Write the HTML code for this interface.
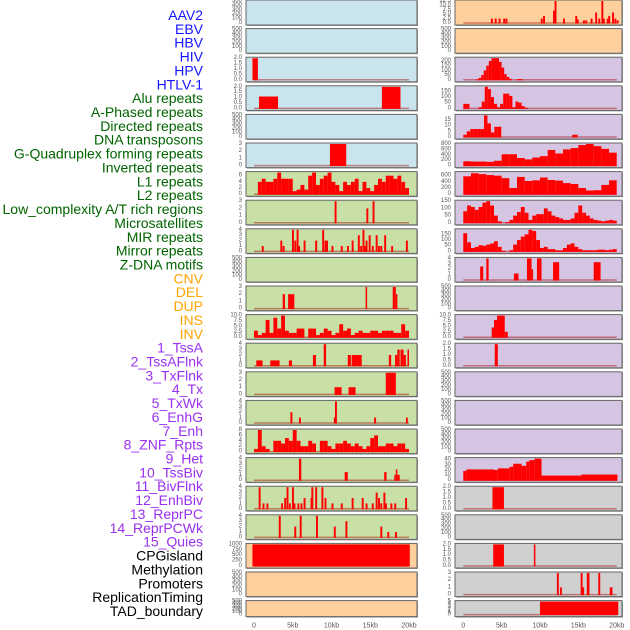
<!DOCTYPE html>
<html><head><meta charset="utf-8"><style>
html,body{margin:0;padding:0;background:#fff;}
svg{display:block;font-family:"Liberation Sans",sans-serif;}
</style></head><body>
<svg id="chart" width="630" height="630" viewBox="0 0 630 630"></svg>
<script>
// ---------- labels ----------
const labelNames = ["AAV2","EBV","HBV","HIV","HPV","HTLV-1","Alu repeats","A-Phased repeats","Directed repeats","DNA transposons","G-Quadruplex forming repeats","Inverted repeats","L1 repeats","L2 repeats","Low_complexity A/T rich regions","Microsatellites","MIR repeats","Mirror repeats","Z-DNA motifs","CNV","DEL","DUP","INS","INV","1_TssA","2_TssAFlnk","3_TxFlnk","4_Tx","5_TxWk","6_EnhG","7_Enh","8_ZNF_Rpts","9_Het","10_TssBiv","11_BivFlnk","12_EnhBiv","13_ReprPC","14_ReprPCWk","15_Quies","CPGisland","Methylation","Promoters","ReplicationTiming","TAD_boundary"];
const labelGroups = [6,13,5,15,5];
const groupColors = ["#1515ff","#006400","#ffa500","#9a30f0","#000000"];
const xTickLabels = ["0","5kb","10kb","15kb","20kb"];
const xTickValues = [0,5,10,15,20];

// ---------- tick label arrays ----------
const T500 = ["0","100","200","300","400","500"];
const T125 = ["0.0","2.5","5.0","7.5","10.0","12.5"];
const T10 = ["0.0","2.5","5.0","7.5","10.0"];
const T2 = ["0.0","0.5","1.0","1.5","2.0"];
const T3 = ["0","1","2","3"];
const T4 = ["0","1","2","3","4"];
const T6 = ["0","2","4","6"];
const T8 = ["0","2","4","6","8"];
const T200 = ["0","50","100","150","200"];
const T150 = ["0","50","100","150"];
const T15 = ["0","5","10","15"];
const T800 = ["0","200","400","600","800"];
const T600 = ["0","200","400","600"];
const T40 = ["0","10","20","30","40"];
const T1000 = ["0","250","500","750","1000"];
const T5 = ["0","1","2","3","4","5"];

// ---------- series data (kb, values) ----------
const R1_spikes = [[3.6,2.5],[4.1,2.5],[4.6,2.5],[5.2,2.5],[5.5,2.5],[10.1,2.5],[10.4,4],[11.7,7],[11.9,12.5],[13.0,2.5],[14.6,4],[14.8,2],[15.6,1.5],[15.9,1.5],[16.6,2.5],[17.2,6],[17.6,2.5],[18.0,12.5],[18.2,2.5],[18.7,2.5],[18.9,4],[19.4,6],[19.7,2.5],[20.0,1.5]];
const L3_bars = [[-0.2,0.5,2]];
const R3_vals = [0,0,0,0,0,5,20,50,100,150,200,230,230,230,190,130,60,30,10,0,0,8,8,0,0];
const L4_bars = [[0.65,3.1,1.1],[16.5,18.9,2]];
const R4_vals = [40,40,0,0,0,10,60,190,170,100,40,10,40,130,130,110,10,60,50,20,5,0];
const R5_vals = [2,5,7,7,7,7,19,12,4,9,9,0];
const R5_extra = [[14.2,14.9,2]];
const L6_bars = [[9.8,11.9,3]];
const R6_vals = [160,150,150,140,180,420,420,280,230,300,350,580,450,600,650,760,800,720,620,480];
const L7_vals = [0,4,5,4,4,5,7,5,5,5,1,1.5,3,1.5,6,7,3,5,6,7,4,3,1,4,3,4,5,1,4,2,1,3,5,4,6,6,5,6,4,2];
const R7_vals = [580,680,650,620,600,520,200,560,430,450,540,460,440,360,330,200,120,130,300,450];
const L8_spikes = [[10.4,3],[14.5,2],[15.3,3]];
const R8_vals = [80,120,110,90,110,140,150,120,50,10,0,5,20,50,75,110,70,20,50,60,60,100,80,50,40,30,20,20,30,70,120,70,50,30,20,15,10,15,20,15];
const L9_spikes = [[1.0,1],[3.4,2],[3.7,1],[4.9,4],[5.2,2],[5.5,4],[5.7,1],[6.4,2],[7.9,2],[8.8,4],[9.1,2],[9.3,2],[10,1],[11.2,1],[12,1],[12.6,2],[13.4,3],[13.7,1],[14,4],[14.2,1],[14.4,2],[14.8,3],[15.2,1],[15.7,3],[16,1],[16.3,1],[16.8,3],[17.7,1],[19.6,2]];
const R9_vals = [160,80,30,40,55,50,60,70,90,40,5,0,10,60,100,130,150,190,180,100,30,40,20,20,10,10,30,60,70,40,20,10,10,10,10,15,15,10,15,20];
const R10_bars = [[2.2,2.6,2.5],[3.0,3.3,4],[6.6,7.2,1.2],[8.3,8.9,4],[8.9,9.1,2],[9.6,10.2,4],[11.7,12.5,3.3],[17.0,17.9,3.3]];
const L11_bars = [[3.7,4.0,2],[4.4,5.2,2],[14.4,14.6,3],[17.9,18.3,3],[18.3,18.5,2]];
const L12_vals = [3,1,2,8,2,9,4,10,3,2,2,4,4,0,4,4,1,2,4,3,1,2,6,3,4,1,2,3,2,2,3,3,2,3,3,3,2,2,6,3];
const R12_bars = [[3.7,4.0,4.5],[4.0,4.4,8],[4.4,5.4,10],[5.4,5.8,2.5]];
const L13_bars = [[0.3,1.1,1],[2.1,3.3,1],[4.5,4.9,1],[7.6,8.0,2],[9.0,9.3,4],[12.1,12.5,2],[12.6,13.3,2],[13.3,13.9,2],[17.4,17.7,2],[18.2,18.5,2],[18.5,18.8,3],[18.9,19.3,3],[19.3,19.6,2],[19.8,20.0,3]];
const R13_bars = [[4.1,4.5,2]];
const L14_bars = [[10.4,11.3,1],[12.2,13.1,1],[17.0,18.3,3]];
const L15_spikes = [[4.7,2],[5.8,1],[10.3,1],[10.45,4],[15.5,1],[19.6,1]];
const L16_vals = [1,8,2,1,0,4,4,3,5,4,8,4,2,2,4,3,0,4,4,2,1,3,3,4,3,2,3,2,1,2,5,6,2,2,3,3,2,3,3,1];
const L17_bars = [[5.8,6.1,4],[11.7,12.1,1.5],[16.8,17.1,1.5],[18.1,18.3,1],[18.3,18.5,2],[18.5,18.8,1]];
const R17_bars = [[0,0.4,18],[0.4,4,21],[4,4.5,20],[4.5,6,23],[6,6.5,26],[6.5,7.6,32],[7.6,8.2,28],[8.2,8.6,36],[8.6,9.3,39],[9.3,10.2,42],[10.2,15.4,9],[15.4,20.1,11]];
const L18_spikes = [[0.6,4],[1.1,1],[1.6,1],[3.5,1],[3.9,2],[4.2,4],[4.5,1],[4.9,4],[5.1,1],[5.6,1],[6,1],[6.4,2],[7.3,2],[7.4,4],[7.9,4],[8.7,4],[9.1,2],[10,1],[11.2,1],[12.6,2],[13.9,2],[14.4,1],[15.2,1],[15.7,3],[16,2],[16.3,1],[16.7,3],[16.9,1],[17.6,1],[18.1,1],[19.5,2]];
const R18_bars = [[3.8,5.3,2]];
const L19_spikes = [[3.2,4],[5.2,2],[5.9,4],[8,4],[10.3,2],[11.8,3],[16.3,2],[17.2,1],[18.2,1]];
const L20_bars = [[-0.2,20.1,1000]];
const R20_bars = [[3.9,5.3,2],[9.2,9.4,2]];
const R21_spikes = [[12.2,3],[12.6,1],[15.3,3],[15.5,1],[16.1,3],[16.2,3],[17.6,3],[19.1,1],[19.2,1]];
const R22_bars = [[10,20.2,5]];

// ---------- helpers ----------
function binsToBars(vals, step){ return vals.map((v,i)=>[i*step,(i+1)*step,v]); }
function spikesToBars(sp){ return sp.map(s=>[s[0],s[0]+0.25,s[1]]); }

const BLUE="#c9e4ec", GREEN="#c8e0a6", ORANGE="#fdd09e", PURPLE="#d5c5e2", GRAY="#d0d0d0";
const panels = [
 {r:0,s:"L",bg:BLUE,t:T500,m:500,b:[]},
 {r:0,s:"R",bg:ORANGE,t:T125,m:12.5,b:spikesToBars(R1_spikes)},
 {r:1,s:"L",bg:BLUE,t:T500,m:500,b:[]},
 {r:1,s:"R",bg:ORANGE,t:T500,m:500,b:[],nobase:true},
 {r:2,s:"L",bg:BLUE,t:T2,m:2,b:L3_bars},
 {r:2,s:"R",bg:PURPLE,t:T200,m:230,b:binsToBars(R3_vals,0.333)},
 {r:3,s:"L",bg:BLUE,t:T2,m:2,b:L4_bars},
 {r:3,s:"R",bg:PURPLE,t:T150,m:190,b:binsToBars(R4_vals,0.4)},
 {r:4,s:"L",bg:BLUE,t:T500,m:500,b:[]},
 {r:4,s:"R",bg:PURPLE,t:T15,m:19,b:binsToBars(R5_vals,0.45).concat(R5_extra)},
 {r:5,s:"L",bg:BLUE,t:T3,m:3,b:L6_bars},
 {r:5,s:"R",bg:PURPLE,t:T800,m:800,b:binsToBars(R6_vals,1)},
 {r:6,s:"L",bg:GREEN,t:T6,m:7,b:binsToBars(L7_vals,0.5)},
 {r:6,s:"R",bg:PURPLE,t:T600,m:700,b:binsToBars(R7_vals,1)},
 {r:7,s:"L",bg:GREEN,t:T3,m:3,b:spikesToBars(L8_spikes)},
 {r:7,s:"R",bg:PURPLE,t:T150,m:150,b:binsToBars(R8_vals,0.5)},
 {r:8,s:"L",bg:GREEN,t:T4,m:4,b:spikesToBars(L9_spikes)},
 {r:8,s:"R",bg:PURPLE,t:T150,m:190,b:binsToBars(R9_vals,0.5)},
 {r:9,s:"L",bg:GREEN,t:T500,m:500,b:[],nobase:true},
 {r:9,s:"R",bg:PURPLE,t:T4,m:4,b:R10_bars},
 {r:10,s:"L",bg:GREEN,t:T3,m:3,b:L11_bars},
 {r:10,s:"R",bg:PURPLE,t:T500,m:500,b:[],nobase:true},
 {r:11,s:"L",bg:GREEN,t:T10,m:10,b:binsToBars(L12_vals,0.5)},
 {r:11,s:"R",bg:PURPLE,t:T10,m:10,b:R12_bars},
 {r:12,s:"L",bg:GREEN,t:T4,m:4,b:L13_bars},
 {r:12,s:"R",bg:PURPLE,t:T2,m:2,b:R13_bars},
 {r:13,s:"L",bg:GREEN,t:T3,m:3,b:L14_bars},
 {r:13,s:"R",bg:PURPLE,t:T500,m:500,b:[],nobase:true},
 {r:14,s:"L",bg:GREEN,t:T4,m:4,b:spikesToBars(L15_spikes)},
 {r:14,s:"R",bg:PURPLE,t:T500,m:500,b:[],nobase:true},
 {r:15,s:"L",bg:GREEN,t:T8,m:8,b:binsToBars(L16_vals,0.5)},
 {r:15,s:"R",bg:PURPLE,t:T500,m:500,b:[],nobase:true},
 {r:16,s:"L",bg:GREEN,t:T4,m:4,b:L17_bars},
 {r:16,s:"R",bg:PURPLE,t:T40,m:42,b:R17_bars},
 {r:17,s:"L",bg:GREEN,t:T4,m:4,b:spikesToBars(L18_spikes)},
 {r:17,s:"R",bg:GRAY,t:T2,m:2,b:R18_bars},
 {r:18,s:"L",bg:GREEN,t:T4,m:4,b:spikesToBars(L19_spikes)},
 {r:18,s:"R",bg:GRAY,t:T500,m:500,b:[],nobase:true},
 {r:19,s:"L",bg:ORANGE,t:T1000,m:1000,b:L20_bars},
 {r:19,s:"R",bg:GRAY,t:T2,m:2,b:R20_bars},
 {r:20,s:"L",bg:ORANGE,t:T500,m:500,b:[],nobase:true},
 {r:20,s:"R",bg:GRAY,t:T3,m:3,b:spikesToBars(R21_spikes)},
 {r:21,s:"L",bg:ORANGE,t:T500,m:500,b:[],nobase:true},
 {r:21,s:"R",bg:GRAY,t:T5,m:5,b:R22_bars}
];

// ---------- drawing ----------
const NS="http://www.w3.org/2000/svg";
const svg=document.getElementById("chart");
function mk(tag,attrs,parent){const e=document.createElementNS(NS,tag);for(const k in attrs)e.setAttribute(k,attrs[k]);(parent||svg).appendChild(e);return e;}
const cols={L:{x0:246,x1:417,k0:254,k20:409},R:{x0:455,x1:622,k0:463.3,k20:616.7}};
function rowTop(r){return r===0?0:28.6*r;}
function rowH(r){return r===0?25:(r===21?16:24.6);}
function xScale(s,kb){const c=cols[s];return c.k0+(c.k20-c.k0)*kb/20;}

// labels
let li=0;
labelGroups.forEach((n,g)=>{
  for(let j=0;j<n;j++,li++){
    const t=mk("text",{x:203,y:15+li*13.86,"text-anchor":"end","dominant-baseline":"central","font-size":"14",fill:groupColors[g]});
    
    
    t.textContent=labelNames[li];
  }
});

panels.forEach(p=>{
  const c=cols[p.s], top=rowTop(p.r), h=rowH(p.r);
  const g=mk("g",{});
  
  
  mk("rect",{x:c.x0+1,y:top+1,width:c.x1-c.x0,height:h,fill:"#999"},g);
  const bg=mk("rect",{x:c.x0,y:top,width:c.x1-c.x0,height:h,fill:p.bg,stroke:"#666","stroke-width":1},g);
  
  
  const yb=top+h-2, yt=top+1;
  const ys=v=>yb-(yb-yt)*Math.min(v,p.m)/p.m;
  // y ticks
  const tmax=parseFloat(p.t[p.t.length-1]);
  p.t.forEach(lbl=>{
    const v=parseFloat(lbl);
    const y=yb-(yb-yt)*v/(p.m>tmax?p.m:tmax)*(p.m>tmax?1:1);
    const tt=mk("text",{x:c.x0-4,y:yb-(yb-yt)*v/p.m,"text-anchor":"end","dominant-baseline":"central","font-size":"6",fill:"#555"},g);
    
    
    tt.textContent=lbl;
  });
  // baseline
  if(!p.nobase && p.b.length){
    const bl=mk("line",{x1:xScale(p.s,0),x2:xScale(p.s,20),y1:yb,y2:yb,stroke:"rgba(170,0,0,0.45)","stroke-width":1.5},g);
    
    
  }
  // bars
  p.b.forEach(b=>{
    if(b[2]<=0)return;
    const x0=xScale(p.s,b[0]),x1=xScale(p.s,b[1]);
    const y=ys(b[2]);
    const r=mk("rect",{x:x0,y:y,width:Math.max(x1-x0,0.8),height:yb-y+0.5,fill:"#ff0000"},g);
    
    
  });
});

// x axis ticks
["L","R"].forEach(s=>{
  xTickValues.forEach((v,i)=>{
    const t=mk("text",{x:xScale(s,v),y:626,"text-anchor":"middle","dominant-baseline":"central","font-size":"7",fill:"#555"});
    
    
    t.textContent=xTickLabels[i];
  });
});
</script>
</body></html>
